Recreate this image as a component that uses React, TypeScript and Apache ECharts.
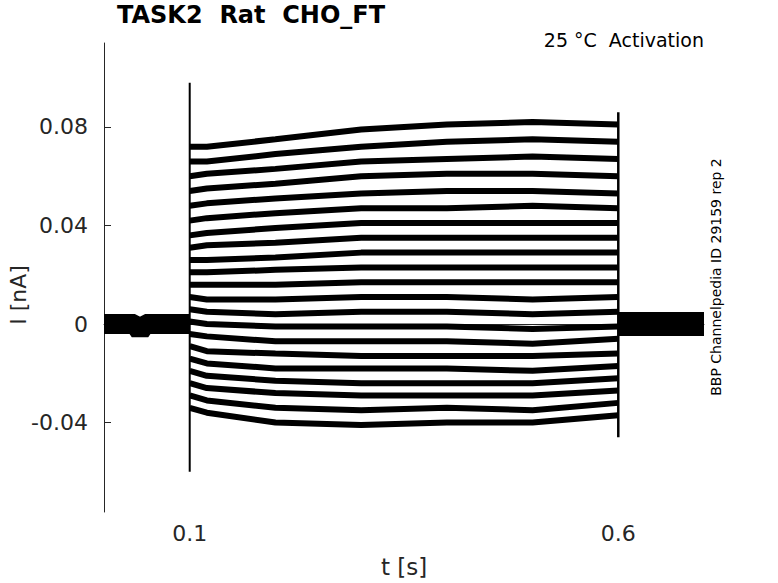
import React, { useEffect, useRef } from "react";
import * as echarts from "echarts";

// Time keypoints (s) during the activation step
const STEP_T = [0.1, 0.12, 0.2, 0.3, 0.4, 0.5, 0.6];

// Mean current (nA) of each sweep at STEP_T (bottom to top)
const SWEEPS: number[][] = [
  [-0.034, -0.036, -0.040, -0.041, -0.040, -0.040, -0.037],
  [-0.029, -0.031, -0.034, -0.035, -0.034, -0.035, -0.032],
  [-0.024, -0.026, -0.028, -0.029, -0.029, -0.029, -0.027],
  [-0.019, -0.021, -0.023, -0.024, -0.024, -0.024, -0.022],
  [-0.014, -0.016, -0.018, -0.018, -0.018, -0.019, -0.017],
  [-0.009, -0.011, -0.012, -0.013, -0.013, -0.013, -0.012],
  [-0.004, -0.005, -0.007, -0.007, -0.007, -0.008, -0.006],
  [0.001, 0.000, -0.001, -0.001, -0.001, -0.002, -0.001],
  [0.006, 0.005, 0.004, 0.005, 0.005, 0.004, 0.005],
  [0.011, 0.010, 0.010, 0.011, 0.011, 0.010, 0.011],
  [0.016, 0.016, 0.016, 0.017, 0.017, 0.017, 0.017],
  [0.021, 0.021, 0.022, 0.023, 0.023, 0.023, 0.023],
  [0.026, 0.026, 0.027, 0.029, 0.029, 0.029, 0.029],
  [0.031, 0.032, 0.033, 0.035, 0.035, 0.035, 0.035],
  [0.036, 0.037, 0.039, 0.041, 0.041, 0.041, 0.041],
  [0.042, 0.043, 0.045, 0.047, 0.047, 0.048, 0.047],
  [0.048, 0.049, 0.051, 0.053, 0.054, 0.054, 0.053],
  [0.054, 0.055, 0.057, 0.060, 0.061, 0.061, 0.060],
  [0.060, 0.061, 0.063, 0.066, 0.067, 0.068, 0.067],
  [0.066, 0.066, 0.069, 0.072, 0.074, 0.075, 0.074],
  [0.072, 0.072, 0.075, 0.079, 0.081, 0.082, 0.081],
];

// Holding current before and after the step
const PRE_T = [0, 0.036, 0.042, 0.048, 0.1];
const PRE_I = [0, 0, -0.003, 0, 0];
const POST_T = [0.6, 0.7];
const POST_I = [0, 0];

// Capacitive transient at step onset and offset
const ONSET_T = 0.1;
const ONSET_RANGE = [-0.06, 0.098];
const OFFSET_T = 0.6;
const OFFSET_RANGE = [-0.046, 0.086];

// Axes
const X_RANGE = [0, 0.7];
const X_TICKS = [0.1, 0.6];
const Y_RANGE = [-0.0763, 0.1141];
const Y_TICKS = [-0.04, 0, 0.04, 0.08];

const FONT = "DejaVu Sans";
const AXIS_COLOR = "#262626";

export default function App() {
  const ref = useRef<HTMLDivElement>(null);

  useEffect(() => {
    document.body.style.margin = "0";
    if (!ref.current) return;
    const chart = echarts.init(ref.current, null, { renderer: "svg" });

    const sweepSeries = SWEEPS.map((lv, i) => ({
      type: "line",
      name: "sweep" + i,
      data: STEP_T.map((t, j) => [t, lv[j]]),
      showSymbol: false,
      silent: true,
      lineStyle: { color: "#000", width: 6, cap: "butt" },
      z: 3,
    }));

    const option: any = {
      animation: false,
      backgroundColor: "#fff",
      grid: { left: 104, right: 74, top: 43, bottom: 71, containLabel: false },
      xAxis: {
        type: "value",
        min: X_RANGE[0],
        max: X_RANGE[1],
        axisLine: { show: true, lineStyle: { color: AXIS_COLOR, width: 1 } },
        axisTick: { show: true, inside: true, length: 7, customValues: X_TICKS, lineStyle: { color: AXIS_COLOR } },
        axisLabel: {
          customValues: X_TICKS,
          color: AXIS_COLOR,
          fontFamily: FONT,
          fontSize: 22,
          margin: 10,
          formatter: (v: number) => String(v),
        },
        splitLine: { show: false },
      },
      yAxis: {
        type: "value",
        min: Y_RANGE[0],
        max: Y_RANGE[1],
        axisLine: { show: true, lineStyle: { color: AXIS_COLOR, width: 1 } },
        axisTick: { show: true, inside: true, length: 7, customValues: Y_TICKS, lineStyle: { color: AXIS_COLOR } },
        axisLabel: {
          customValues: Y_TICKS,
          color: AXIS_COLOR,
          fontFamily: FONT,
          fontSize: 22,
          margin: 16,
          formatter: (v: number) => (v === 0 ? "0" : String(Number(v.toFixed(2)))),
        },
        splitLine: { show: false },
      },
      series: [
        ...sweepSeries,
        {
          type: "line",
          name: "pre",
          data: PRE_T.map((t, i) => [t, PRE_I[i]]),
          showSymbol: false,
          silent: true,
          lineStyle: { color: "#000", width: 20, cap: "butt" },
          z: 2,
        },
        {
          type: "line",
          name: "post",
          data: POST_T.map((t, i) => [t, POST_I[i]]),
          showSymbol: false,
          silent: true,
          lineStyle: { color: "#000", width: 24, cap: "butt" },
          z: 2,
        },
        {
          type: "line",
          name: "onset",
          data: [[ONSET_T, ONSET_RANGE[0]], [ONSET_T, ONSET_RANGE[1]]],
          showSymbol: false,
          silent: true,
          lineStyle: { color: "#000", width: 2 },
          z: 4,
        },
        {
          type: "line",
          name: "offset",
          data: [[OFFSET_T, OFFSET_RANGE[0]], [OFFSET_T, OFFSET_RANGE[1]]],
          showSymbol: false,
          silent: true,
          lineStyle: { color: "#000", width: 2.5 },
          z: 4,
        },
      ],
      graphic: [
        {
          type: "text",
          left: 117,
          top: 3,
          style: { text: "TASK2  Rat  CHO_FT", fontFamily: FONT, fontWeight: "bold", fontSize: 24, fill: "#000" },
        },
        {
          type: "text",
          x: 704,
          y: 40,
          style: { text: "25 °C  Activation", fontFamily: FONT, fontSize: 19, fill: "#000", align: "right", verticalAlign: "middle" },
        },
        {
          type: "text",
          x: 716,
          y: 277,
          rotation: Math.PI / 2,
          style: { text: "BBP Channelpedia ID 29159 rep 2", fontFamily: FONT, fontSize: 14, fill: "#000", align: "center", verticalAlign: "middle" },
        },
        {
          type: "text",
          x: 18,
          y: 295,
          rotation: Math.PI / 2,
          style: { text: "I [nA]", fontFamily: FONT, fontSize: 22, fill: AXIS_COLOR, align: "center", verticalAlign: "middle" },
        },
        {
          type: "text",
          x: 404,
          y: 567,
          style: { text: "t [s]", fontFamily: FONT, fontSize: 23, fill: AXIS_COLOR, align: "center", verticalAlign: "middle" },
        },
      ],
    };

    chart.setOption(option);
    return () => chart.dispose();
  }, []);

  return <div ref={ref} style={{ width: 778, height: 583 }} />;
}
